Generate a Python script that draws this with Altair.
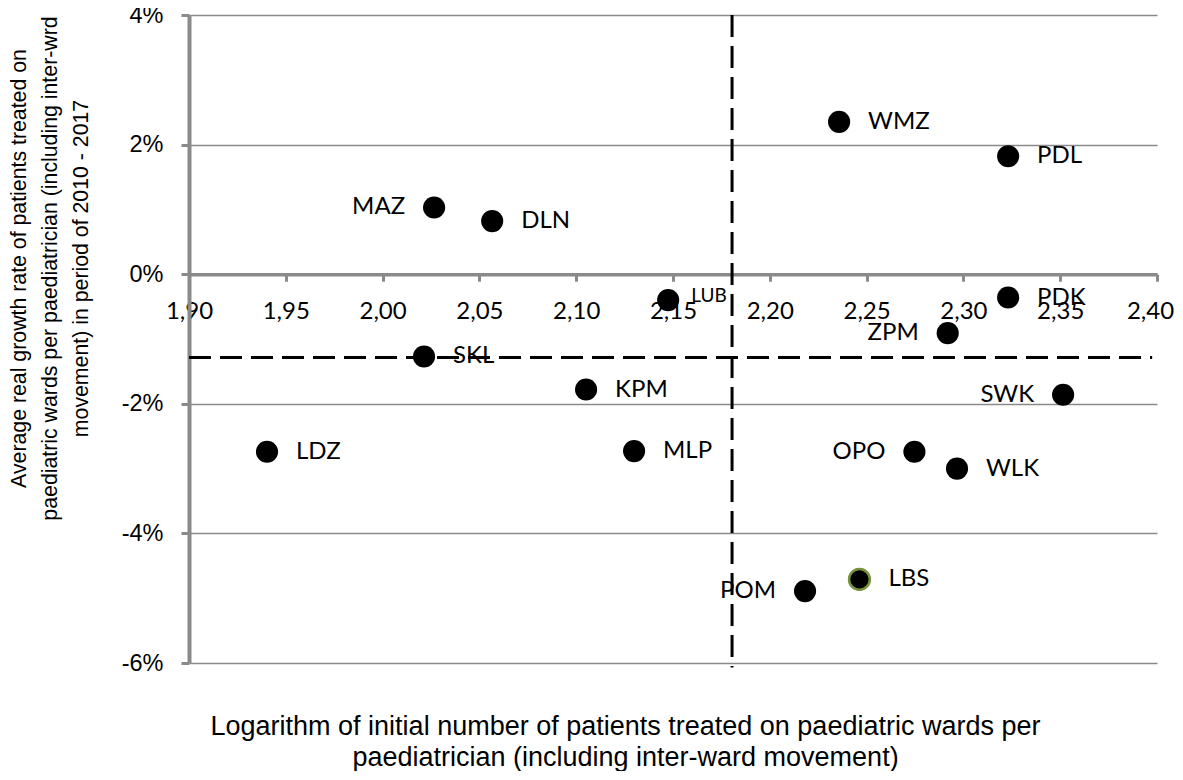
import altair as alt
import pandas as pd

# ---- data ----
names = ["MAZ", "DLN", "WMZ", "PDL", "LUB", "PDK", "ZPM", "SKL",
         "KPM", "LDZ", "MLP", "SWK", "OPO", "WLK", "LBS", "POM"]
log_patients = [2.0266, 2.0566, 2.2358, 2.3231, 2.1475, 2.3231, 2.2919, 2.0214,
                2.1051, 1.9403, 2.1299, 2.3515, 2.2747, 2.2967, 2.2463, 2.2182]
growth_pct = [1.03, 0.82, 2.35, 1.82, -0.40, -0.36, -0.91, -1.27,
              -1.78, -2.74, -2.73, -1.86, -2.74, -3.00, -4.71, -4.89]
left_labeled = ["MAZ", "ZPM", "SWK", "OPO", "POM"]

mean_x = 2.1805
mean_y = -1.284

x_ticks = [1.90, 1.95, 2.00, 2.05, 2.10, 2.15, 2.20, 2.25, 2.30, 2.35, 2.40]
y_ticks = [-6, -4, -2, 0, 2, 4]

x_title = ["Logarithm of initial number of patients treated on paediatric wards per",
           "paediatrician (including inter-ward movement)"]
y_title = ["Average real growth rate of patients treated on",
           "paediatric wards per paediatrician (including inter-wrd",
           "movement) in period of 2010 - 2017"]

df = pd.DataFrame({"name": names, "x": log_patients, "y": growth_pct})
df["side"] = ["left" if n in left_labeled else "right" for n in names]

GRAY = "#8a8a8a"
xscale = alt.Scale(domain=[1.90, 2.40], nice=False, zero=False)
yscale = alt.Scale(domain=[-6, 4], nice=False, zero=False)

x_axis = alt.Axis(
    values=x_ticks,
    labelExpr="replace(format(datum.value, '.2f'), '.', ',')",
    offset=-388.8, grid=False,
    domainColor=GRAY, domainWidth=3.5,
    tickColor=GRAY, tickWidth=3, tickSize=7,
    labelFont="Lato", labelFontSize=24, labelColor="black", labelPadding=18,
    labelFlush=False, labelOverlap=False,
    labelOffset={"condition": {"test": "datum.value > 2.399", "value": -7}, "value": 0},
    title=x_title, titleFont="Liberation Sans", titleFontSize=27,
    titleFontWeight="normal", titleColor="black",
    titleX=436, titleY=452.5, titleAlign="center", titleBaseline="middle",
    titleLineHeight=31,
)
y_axis = alt.Axis(
    values=y_ticks,
    labelExpr="datum.value + '%'",
    grid=True, gridColor=GRAY, gridWidth=1.5,
    domainColor=GRAY, domainWidth=4,
    tickColor=GRAY, tickWidth=3, tickSize=8,
    labelFont="Liberation Sans", labelFontSize=23.5, labelColor="black",
    labelPadding=18, labelFlush=False, labelOverlap=False,
    title=y_title, titleFont="Liberation Sans", titleFontSize=21.3,
    titleFontWeight="normal", titleColor="black",
    titleAngle=270, titleX=-170, titleY=253, titleAlign="center",
    titleBaseline="middle", titleLineHeight=31,
)

X = alt.X("x:Q", scale=xscale, axis=x_axis)
Y = alt.Y("y:Q", scale=yscale, axis=y_axis)

base = alt.Chart(df)

vline = alt.Chart(pd.DataFrame({"x": [mean_x], "y": [4.0], "y2": [-6.07]})).mark_rule(
    color="black", strokeWidth=3, strokeDash=[22, 9]
).encode(x=X, y=Y, y2="y2:Q")

hline = alt.Chart(pd.DataFrame({"y": [mean_y], "x": [1.90], "x2": [2.3975]})).mark_rule(
    color="black", strokeWidth=3, strokeDash=[22, 9]
).encode(x=X, x2="x2:Q", y=Y)

pts = base.mark_circle(size=490, opacity=1, color="black").encode(x=X, y=Y)

lbs = base.transform_filter(alt.datum.name == "LBS").mark_circle(
    size=430, opacity=1, color="black", stroke="#77933C", strokeWidth=2.5
).encode(x=X, y=Y)

labels_r = base.transform_filter(
    (alt.datum.side == "right") & (alt.datum.name != "LUB")
).mark_text(align="left", baseline="middle", dx=29, font="Lato", fontSize=24,
            color="black").encode(x=X, y=Y, text="name:N")

labels_l = base.transform_filter(alt.datum.side == "left").mark_text(
    align="right", baseline="middle", dx=-29, font="Lato", fontSize=24, color="black"
).encode(x=X, y=Y, text="name:N")

label_lub = base.transform_filter(alt.datum.name == "LUB").mark_text(
    align="left", baseline="middle", dx=23, dy=-4, font="Lato", fontSize=19, color="black"
).encode(x=X, y=Y, text="name:N")

chart = alt.layer(vline, hline, pts, lbs, labels_r, labels_l, label_lub).properties(
    width=968, height=648,
    autosize=alt.AutoSizeParams(type="none"),
    padding={"left": 181, "top": 7, "right": 18, "bottom": 108},
).configure_view(strokeWidth=0)

chart.save("out.html", embed_options={"renderer": "svg", "actions": False})
